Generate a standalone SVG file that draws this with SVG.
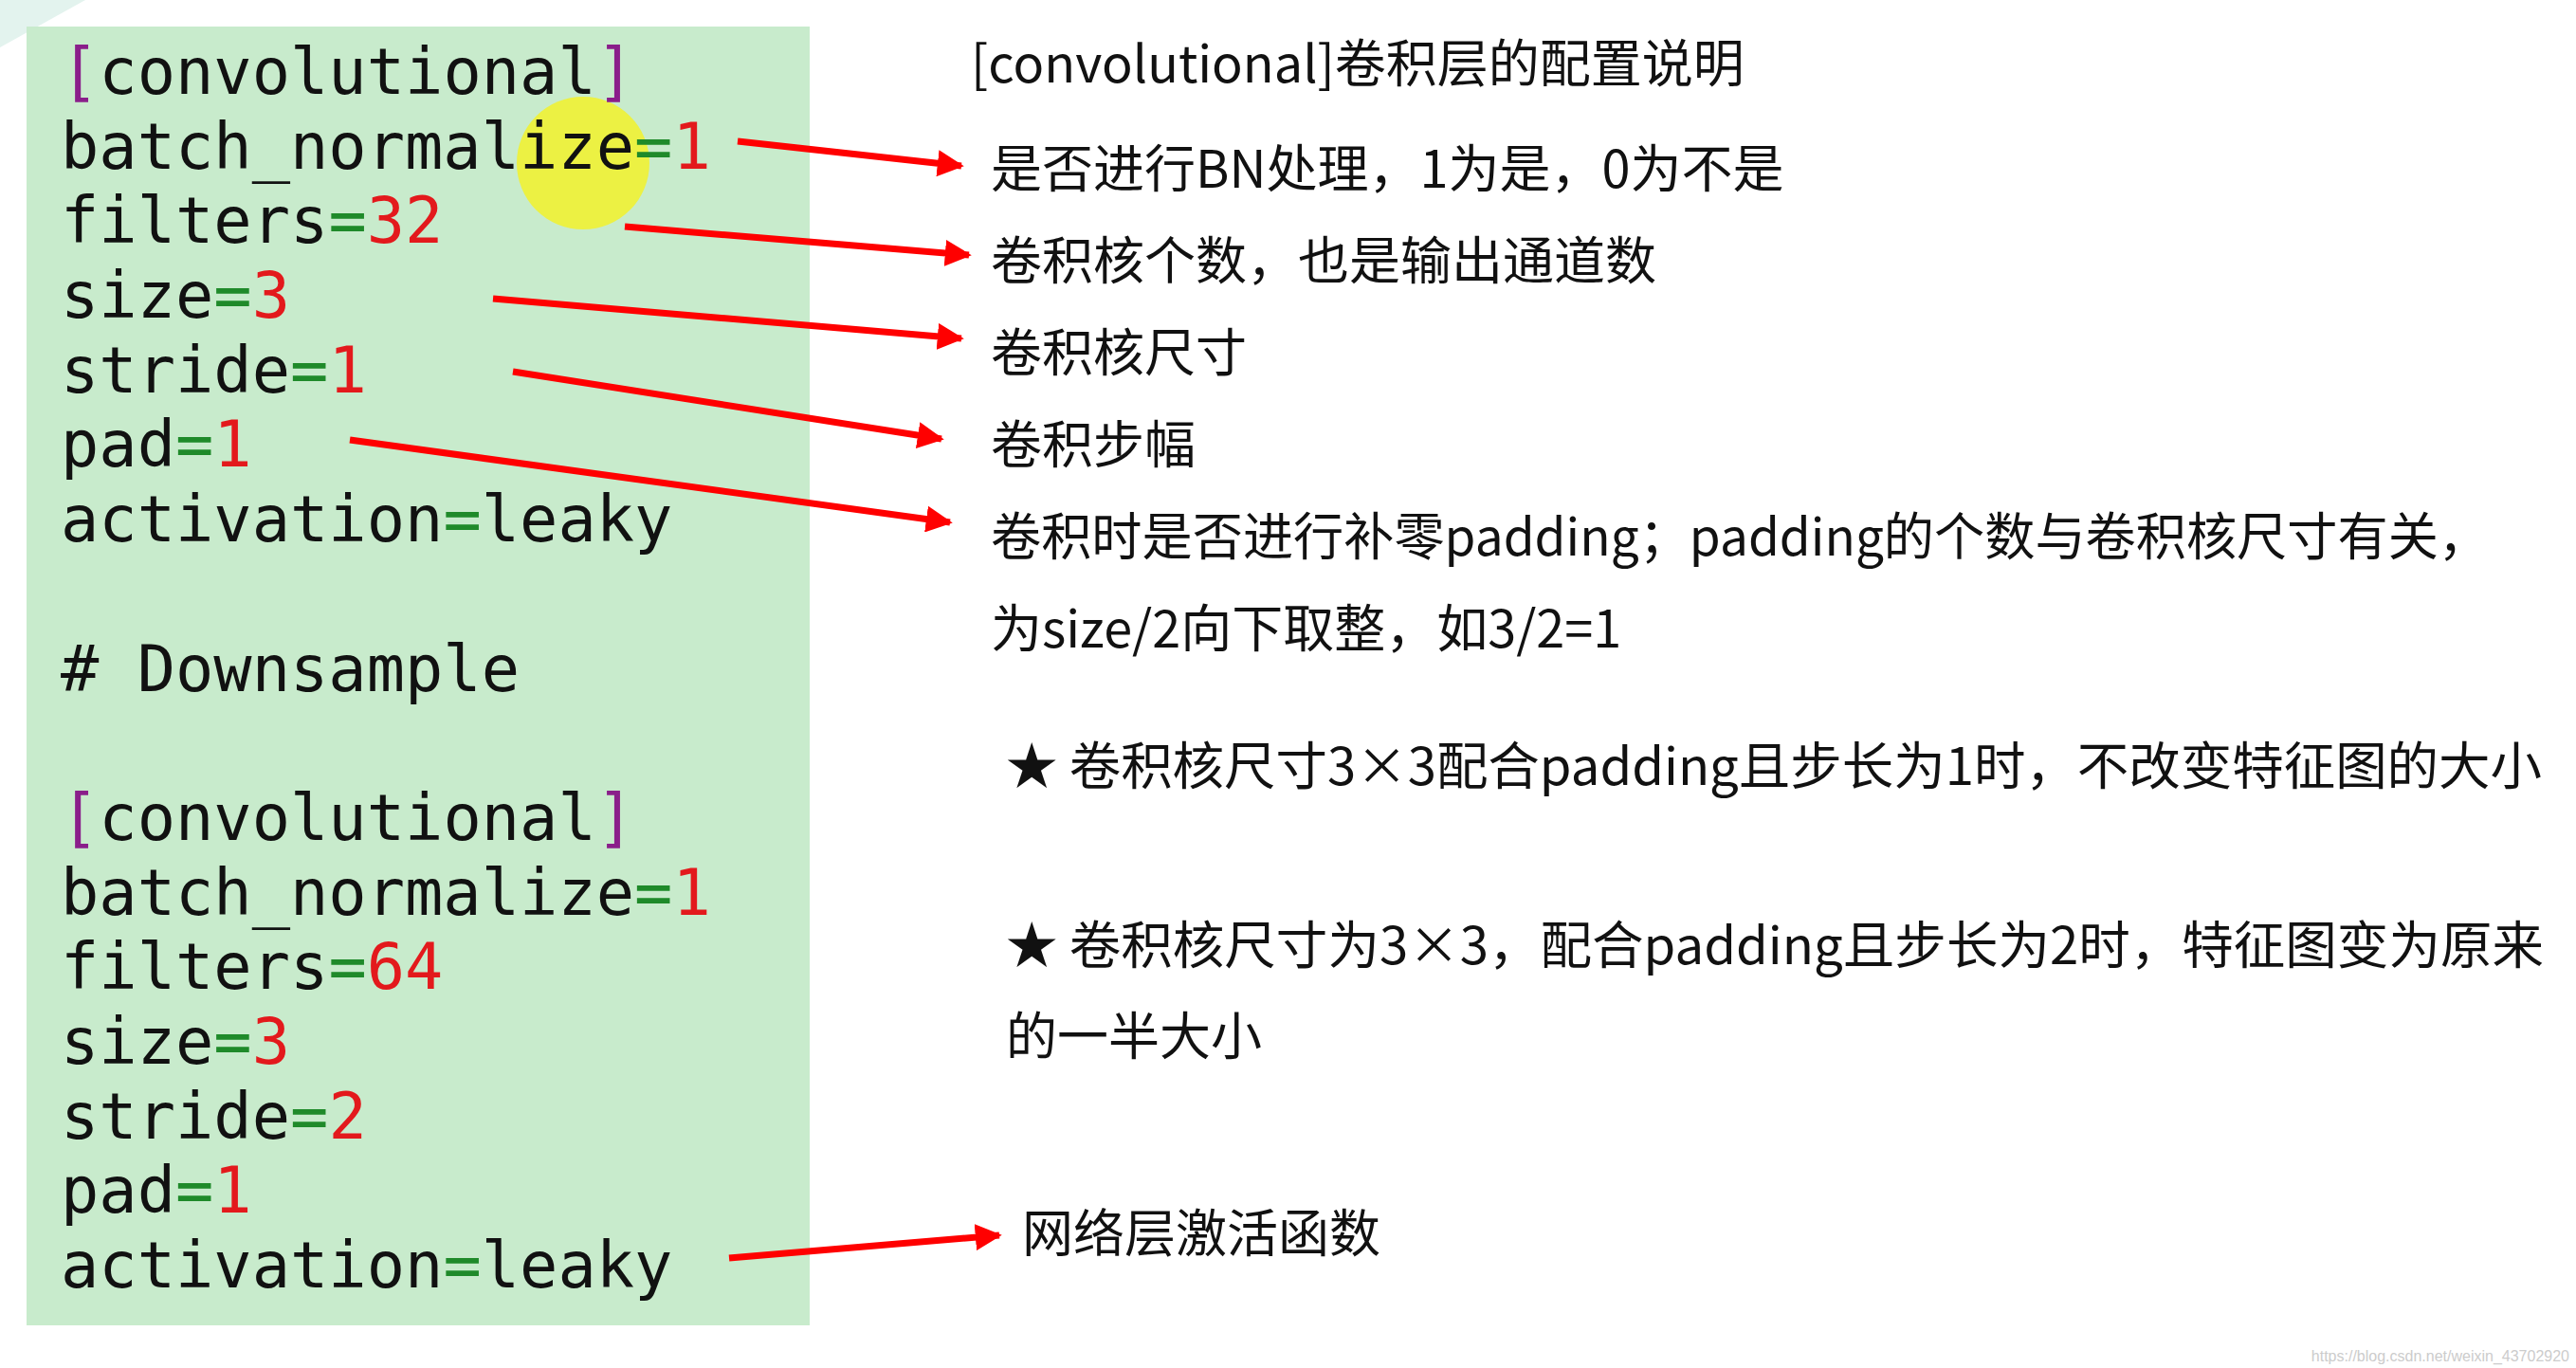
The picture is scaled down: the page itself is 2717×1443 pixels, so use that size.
<svg xmlns="http://www.w3.org/2000/svg" width="2717" height="1443" viewBox="0 0 2717 1443">
<style>
.c{font-family:"DejaVu Sans Mono","Liberation Mono",monospace;font-size:67px;fill:#111}
.p{fill:#8a1e8a}.g{fill:#1f8a2a}.r{fill:#e3191c}
.t{font-family:"Noto Sans CJK SC","Noto Sans",sans-serif;font-size:54px;fill:#111}
.a{stroke:#f00;stroke-width:7;fill:none;marker-end:url(#h)}
</style>
<defs><marker id="h" viewBox="0 0 10 10" refX="9" refY="5" markerWidth="4" markerHeight="4" orient="auto" markerUnits="strokeWidth"><path d="M0,0L10,5L0,10z" fill="#f00"/></marker></defs>
<rect width="2717" height="1443" fill="#fff"/>
<path d="M0,0H90L0,50z" fill="#e3f3ee"/>
<g id="code">
<rect x="28" y="28" width="826" height="1370" fill="#c8ebcc"/>
<circle cx="615" cy="172" r="70" fill="#f2f22a" opacity="0.85"/>
<text class="c" x="64" y="99"><tspan class="p">[</tspan>convolutional<tspan class="p">]</tspan></text>
<text class="c" x="64" y="178">batch_normalize<tspan class="g">=</tspan><tspan class="r">1</tspan></text>
<text class="c" x="64" y="256">filters<tspan class="g">=</tspan><tspan class="r">32</tspan></text>
<text class="c" x="64" y="335">size<tspan class="g">=</tspan><tspan class="r">3</tspan></text>
<text class="c" x="64" y="414">stride<tspan class="g">=</tspan><tspan class="r">1</tspan></text>
<text class="c" x="64" y="492">pad<tspan class="g">=</tspan><tspan class="r">1</tspan></text>
<text class="c" x="64" y="571">activation<tspan class="g">=</tspan>leaky</text>
<text class="c" x="64" y="729"># Downsample</text>
<text class="c" x="64" y="886"><tspan class="p">[</tspan>convolutional<tspan class="p">]</tspan></text>
<text class="c" x="64" y="965">batch_normalize<tspan class="g">=</tspan><tspan class="r">1</tspan></text>
<text class="c" x="64" y="1043">filters<tspan class="g">=</tspan><tspan class="r">64</tspan></text>
<text class="c" x="64" y="1122">size<tspan class="g">=</tspan><tspan class="r">3</tspan></text>
<text class="c" x="64" y="1201">stride<tspan class="g">=</tspan><tspan class="r">2</tspan></text>
<text class="c" x="64" y="1279">pad<tspan class="g">=</tspan><tspan class="r">1</tspan></text>
<text class="c" x="64" y="1358">activation<tspan class="g">=</tspan>leaky</text>
</g>
<g id="notes">
<text class="t" x="1024" y="87">[convolutional]卷积层的配置说明</text>
<text class="t" x="1045" y="198">是否进行BN处理，1为是，0为不是</text>
<text class="t" x="1045" y="295">卷积核个数，也是输出通道数</text>
<text class="t" x="1045" y="392">卷积核尺寸</text>
<text class="t" x="1045" y="489">卷积步幅</text>
<text class="t" x="1045" y="586" textLength="1580" lengthAdjust="spacingAndGlyphs">卷积时是否进行补零padding；padding的个数与卷积核尺寸有关，</text>
<text class="t" x="1045" y="683">为size/2向下取整，如3/2=1</text>
<text class="t" x="1061" y="828" textLength="1620" lengthAdjust="spacingAndGlyphs">★ 卷积核尺寸3×3配合padding且步长为1时，不改变特征图的大小</text>
<text class="t" x="1061" y="1017" textLength="1622" lengthAdjust="spacingAndGlyphs">★ 卷积核尺寸为3×3，配合padding且步长为2时，特征图变为原来</text>
<text class="t" x="1061" y="1113">的一半大小</text>
<text class="t" x="1078" y="1321">网络层激活函数</text>
<text x="2710" y="1436" text-anchor="end" font-family="Liberation Sans,sans-serif" font-size="16" fill="#ccc">https://blog.csdn.net/weixin_43702920</text>
</g>
<g id="connectors">
<line class="a" x1="778" y1="149" x2="1014" y2="175"/>
<line class="a" x1="659" y1="239" x2="1022" y2="269"/>
<line class="a" x1="520" y1="315" x2="1014" y2="357"/>
<line class="a" x1="541" y1="392" x2="993" y2="463"/>
<line class="a" x1="369" y1="464" x2="1002" y2="551"/>
<line class="a" x1="769" y1="1327" x2="1054" y2="1303"/>
</g>
</svg>
